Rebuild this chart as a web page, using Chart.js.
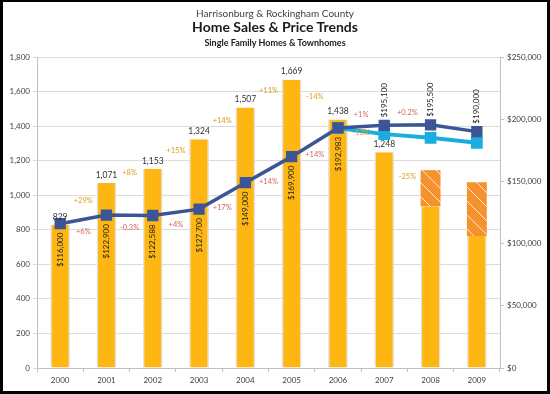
<!DOCTYPE html>
<html>
<head>
<meta charset="utf-8">
<script src="https://cdn.jsdelivr.net/npm/chart.js@4.4.0/dist/chart.umd.min.js"></script>
<style>
    html, body { margin: 0; padding: 0; background: #fff; }
    #wrap { position: relative; width: 550px; height: 394px; overflow: hidden; }
    #frame { position: absolute; left: 0; top: 0; width: 550px; height: 394px; box-sizing: border-box;
             border: solid #000; border-width: 2px 3px 3px 3px; pointer-events: none; }
    .t { position: absolute; left: 0; width: 550px; text-align: center; font-family: Lato, sans-serif;
         color: #1a1a1a; white-space: nowrap; line-height: 1; }
    #t1 { top: 8px; font-size: 10px; color: #404040; }
    #t2 { top: 20px; font-size: 14px; font-weight: bold; }
    #t3 { top: 38px; font-size: 9px; font-weight: bold; }
</style>
</head>
<body>
<div id="wrap">
    <canvas id="salesChart" width="550" height="394"></canvas>
    <div class="t" id="t1">Harrisonburg &amp; Rockingham County</div>
    <div class="t" id="t2">Home Sales &amp; Price Trends</div>
    <div class="t" id="t3">Single Family Homes &amp; Townhomes</div>
    <div id="frame"></div>
</div>
<script>
const years = ['2000', '2001', '2002', '2003', '2004', '2005', '2006', '2007', '2008', '2009'];
const homeSales = [829, 1071, 1153, 1324, 1507, 1669, 1438, 1248, 936, 764];
const projectedSales = [null, null, null, null, null, null, null, null, 1145, 1075];
const medianPrice = [116000, 122900, 122588, 127700, 149000, 169900, 192983, 195100, 195500, 190000];
const secondPrice = [null, null, null, null, null, null, 192983, 188000, 185000, 181000];
const salesChange = ['+29%', '+8%', '+15%', '+14%', '+11%', '-14%', '-13%', '-25%'];
const priceChange = ['+6%', '-0.3%', '+4%', '+17%', '+14%', '+14%', '+1%', '+0.2%'];

Chart.defaults.font.family = 'Lato, sans-serif';

// orange hatch for the projected part of 2008 / 2009
function hatchPattern() {
    const c = document.createElement('canvas');
    c.width = 14; c.height = 14;
    const g = c.getContext('2d');
    g.fillStyle = '#F5922E';
    g.fillRect(0, 0, 14, 14);
    g.strokeStyle = 'rgba(255,255,255,0.8)';
    g.lineWidth = 1;
    g.beginPath();
    g.moveTo(-2, -2); g.lineTo(16, 16);
    g.stroke();
    return g.createPattern(c, 'repeat');
}

const fmt = n => n.toLocaleString('en-US');

const labelPlugin = {
    id: 'labels',
    afterDatasetsDraw(chart) {
        const ctx = chart.ctx;
        const x = chart.scales.x, y = chart.scales.y, y1 = chart.scales.y1;
        ctx.save();

        // sales counts above bars
        ctx.font = '8.5px Lato, sans-serif';
        ctx.fillStyle = '#333';
        ctx.textAlign = 'center';
        ctx.textBaseline = 'middle';
        homeSales.forEach((v, i) => {
            if (projectedSales[i] != null) return;
            ctx.fillText(fmt(v), x.getPixelForValue(i), y.getPixelForValue(v) - 8);
        });

        // median price, rotated
        ctx.font = '8px Lato, sans-serif';
        ctx.fillStyle = '#222';
        medianPrice.forEach((v, i) => {
            const above = secondPrice[i] != null && i > 0 && secondPrice[i - 1] != null;
            ctx.save();
            ctx.translate(x.getPixelForValue(i), y1.getPixelForValue(v) + (above ? -8 : 9));
            ctx.rotate(-Math.PI / 2);
            ctx.textAlign = above ? 'left' : 'right';
            ctx.fillText('$' + fmt(v), 0, 0);
            ctx.restore();
        });

        // year-over-year change labels
        ctx.font = '7.5px Lato, sans-serif';
        ctx.textAlign = 'center';
        for (let i = 0; i < salesChange.length; i++) {
            const mx = (x.getPixelForValue(i) + x.getPixelForValue(i + 1)) / 2;
            const sy = (y.getPixelForValue(homeSales[i]) + y.getPixelForValue(homeSales[i + 1])) / 2 - 3;
            ctx.fillStyle = '#D6A21E';
            ctx.fillText(salesChange[i], mx, sy);

            const py = (y1.getPixelForValue(medianPrice[i]) + y1.getPixelForValue(medianPrice[i + 1])) / 2;
            ctx.fillStyle = '#D0685A';
            ctx.fillText(priceChange[i], mx, py + (i >= 6 ? -12 : 12));
        }
        ctx.restore();
    }
};

const grey = '#BFBFBF';

new Chart(document.getElementById('salesChart').getContext('2d'), {
    type: 'bar',
    data: {
        labels: years,
        datasets: [
            {
                label: 'Median Price',
                type: 'line',
                data: medianPrice,
                yAxisID: 'y1',
                borderColor: '#3C5597',
                backgroundColor: '#3C5597',
                borderWidth: 3.5,
                pointStyle: 'rect',
                pointRadius: 5.5,
                order: 1
            },
            {
                label: 'Price 2',
                type: 'line',
                data: secondPrice,
                yAxisID: 'y1',
                borderColor: '#1AAEDF',
                backgroundColor: '#1AAEDF',
                borderWidth: 4,
                pointStyle: 'rect',
                pointRadius: 5.5,
                order: 2
            },
            {
                label: 'Home Sales',
                data: homeSales,
                stack: 'sales',
                backgroundColor: '#FDB612',
                borderColor: '#E2E2E2',
                borderWidth: { left: 1.5, right: 1.5, top: 0, bottom: 0 },
                order: 3
            },
            {
                label: 'Projected',
                data: projectedSales.map((v, i) => v == null ? null : v - homeSales[i]),
                stack: 'sales',
                backgroundColor: hatchPattern(),
                order: 3
            }
        ]
    },
    options: {
        responsive: false,
        animation: false,
        categoryPercentage: 0.5,
        barPercentage: 0.86,
        layout: { padding: { top: 57, left: 0, right: 0, bottom: 0 } },
        plugins: {
            legend: { display: false },
            tooltip: { enabled: false },
            title: { display: false }
        },
        scales: {
            x: {
                stacked: true,
                grid: { drawOnChartArea: false, tickLength: 4, color: grey },
                border: { color: grey },
                ticks: { font: { size: 8 }, color: '#404040', padding: 4 },
                afterFit: s => { s.height = 26; }
            },
            y: {
                stacked: true,
                min: 0,
                max: 1800,
                ticks: { stepSize: 200, font: { size: 8 }, color: '#404040', padding: 3 },
                grid: { color: '#DCDCDC', tickLength: 4 },
                border: { color: grey },
                afterFit: s => { s.width = 37; }
            },
            y1: {
                position: 'right',
                min: 0,
                max: 250000,
                ticks: { stepSize: 50000, font: { size: 8 }, color: '#404040', padding: 3,
                         callback: v => '$' + fmt(v) },
                grid: { drawOnChartArea: false, tickLength: 4, color: grey },
                border: { color: grey },
                afterFit: s => { s.width = 50; }
            }
        }
    },
    plugins: [labelPlugin]
});
</script>
</body>
</html>
